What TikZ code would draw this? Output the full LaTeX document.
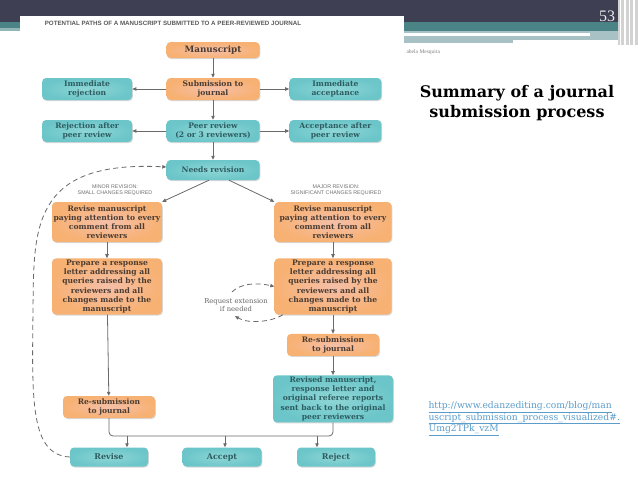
\documentclass[tikz,border=0pt]{standalone}
\usepackage{fontspec}
\setmainfont{DejaVu Serif}
\newfontfamily\capsfont{Liberation Sans}
\newfontfamily\slidefont{Liberation Serif}
\usetikzlibrary{arrows.meta, positioning, shadows, calc}

\definecolor{hdark}{HTML}{3E3F52}
\definecolor{hteal}{HTML}{4A8487}
\definecolor{hlight}{HTML}{A7C1C4}
\definecolor{orngin}{HTML}{F5BFA8}
\definecolor{orngout}{HTML}{F7B173}
\definecolor{tealin}{HTML}{8FD6D6}
\definecolor{tealout}{HTML}{6CC6C9}
\definecolor{otext}{HTML}{4A3C33}
\definecolor{ttext}{HTML}{2D5C61}
\definecolor{linec}{HTML}{6A6A6A}
\definecolor{headc}{HTML}{707070}
\definecolor{linkc}{HTML}{5C9DCB}

\begin{document}
\begin{tikzpicture}[x=1pt, y=-1pt,
  box/.style = {
    rounded corners=4pt, align=center, inner sep=1.5pt,
    font=\bfseries\fontsize{7.6}{9.2}\selectfont,
    drop shadow={opacity=0.3, shadow xshift=0.8pt, shadow yshift=-1pt}
  },
  orange box/.style = {box, inner color=orngin, outer color=orngout, text=otext},
  teal box/.style   = {box, inner color=tealin, outer color=tealout, text=ttext},
  arr/.style = {-{Triangle[length=4pt, width=3.4pt]}, draw=linec, line width=0.8pt},
  dash arr/.style = {arr, dash pattern=on 5pt off 3.5pt},
  head/.style = {font=\capsfont\fontsize{5.3}{6.4}\selectfont, text=headc, align=center},
]
\useasboundingbox (0,0) rectangle (638,479);
\fill[white] (0,0) rectangle (638,479);

% slide header
\fill[hdark]  (0,0) rectangle (638,22);
\fill[hteal]  (0,22) rectangle (638,31);
\fill[hteal!60!white] (0,28) rectangle (20,31);
\fill[hlight] (404,31) rectangle (625,43);
\fill[white]  (404,33) rectangle (590,35.5);
\fill[white]  (513,40) rectangle (625,43);
\fill[gray!35] (618,0) rectangle (638,45);
\foreach \x in {620.5,625,629.5,634}
  \draw[white, line width=1.3pt] (\x,0) -- (\x,45);
\node[font=\slidefont\fontsize{16}{16}\selectfont, text=white!92!black] (pgno) at (607,16) {53};
\node[font=\slidefont\fontsize{5.5}{6}\selectfont, text=gray, anchor=west] (author) at (403,52) {abela Mesquita};

% white panel of the figure
\fill[white] (20,16) rectangle (404,479);
\node[font=\capsfont\bfseries\fontsize{6.2}{7}\selectfont, text=black!65] (title) at (173,23)
  {POTENTIAL PATHS OF A MANUSCRIPT SUBMITTED TO A PEER-REVIEWED JOURNAL};

% main column
\node[orange box, minimum width=93pt, minimum height=16pt,
      font=\bfseries\fontsize{8.8}{10}\selectfont] (ms) at (213,50) {Manuscript};
\node[orange box, minimum width=93pt, minimum height=22pt] (sub) at (213,89) {Submission to\\journal};
\node[teal box, minimum width=90pt, minimum height=22pt] (irej) [left=34pt of sub] {Immediate\\rejection};
\node[teal box, minimum width=92pt, minimum height=22pt] (iacc) [right=29.5pt of sub] {Immediate\\acceptance};
\node[teal box, minimum width=93pt, minimum height=22pt] (peer) at (213,131) {Peer review\\(2 or 3 reviewers)};
\node[teal box, minimum width=90pt, minimum height=22pt] (rejp) [left=34pt of peer] {Rejection after\\peer review};
\node[teal box, minimum width=92pt, minimum height=22pt] (accp) [right=29.5pt of peer] {Acceptance after\\peer review};
\node[teal box, minimum width=93pt, minimum height=20pt] (need) at (213,170) {Needs revision};

\draw[arr] (ms) -- (sub);
\draw[arr] (sub) -- (peer);
\draw[arr] (peer) -- (need);
\draw[arr] (sub) -- (irej);
\draw[arr] (sub) -- (iacc);
\draw[arr] (peer) -- (rejp);
\draw[arr] (peer) -- (accp);

% minor / major revision
\node[head] (minor) at (115,190) {MINOR REVISION:\\SMALL CHANGES REQUIRED};
\node[head] (major) at (336,190) {MAJOR REVISION:\\SIGNIFICANT CHANGES REQUIRED};

\node[orange box, minimum width=110pt, minimum height=40pt] (rev1) at (107,222)
  {Revise manuscript\\paying attention to every\\comment from all\\reviewers};
\node[orange box, minimum width=117pt, minimum height=40pt] (rev2) at (333,222)
  {Revise manuscript\\paying attention to every\\comment from all\\reviewers};
\node[orange box, minimum width=110pt, minimum height=55pt] (prep1) [below=16pt of rev1]
  {Prepare a response\\letter addressing all\\queries raised by the\\reviewers and all\\changes made to the\\manuscript};
\node[orange box, minimum width=117pt, minimum height=55pt] (prep2) [below=16pt of rev2]
  {Prepare a response\\letter addressing all\\queries raised by the\\reviewers and all\\changes made to the\\manuscript};
\node[orange box, minimum width=92pt, minimum height=22pt] (resub2) [below=19pt of prep2] {Re-submission\\to journal};
\node[teal box, minimum width=120pt, minimum height=46pt] (revd) [below=19pt of resub2]
  {Revised manuscript,\\response letter and\\original referee reports\\sent back to the original\\peer reviewers};
\node[orange box, minimum width=92pt, minimum height=22pt] (resub1) at (109,407) {Re-submission\\to journal};

\draw[arr] ([xshift=-4pt]need.south) -- (rev1.north east);
\draw[arr] ([xshift=16pt]need.south) -- (rev2.north west);
\draw[arr] (rev1) -- (prep1);
\draw[arr] (rev2) -- (prep2);
\draw[arr] (prep1) -- (resub1);
\draw[arr] (prep2) -- (resub2);
\draw[arr] (resub2) -- (revd);

% request extension loop
\node[font=\fontsize{6.8}{8}\selectfont, text=black!60, align=center] (req) at (236,305)
  {Request extension\\if needed};
\draw[dash arr] ($(req.north)+(-4,-3)$) .. controls (240,284) and (255,282) .. (prep2.west);
\draw[dash arr] ($(prep2.south west)+(8.5,0)$) .. controls (272,322) and (248,324) .. ($(req.south)+(-1,1)$);

% decisions
\node[teal box, minimum width=78pt, minimum height=19pt, font=\bfseries\fontsize{8}{9}\selectfont] (revise) at (109,457) {Revise};
\node[teal box, minimum width=79pt, minimum height=19pt, font=\bfseries\fontsize{8}{9}\selectfont] (accept) at (222,457) {Accept};
\node[teal box, minimum width=78pt, minimum height=19pt, font=\bfseries\fontsize{8}{9}\selectfont] (reject) at (336,457) {Reject};

\coordinate (busy) at (0,436);
\coordinate (d1) at ([xshift=18pt]revise.north);
\coordinate (d2) at ([xshift=3pt]accept.north);
\coordinate (d3) at ([xshift=-19pt]reject.north);
\draw[linec, line width=0.8pt, rounded corners=4pt]
  (resub1.south) -- (resub1.south |- busy) -- (revd.south |- busy) -- (revd.south);
\draw[arr] (d1 |- busy) -- (d1);
\draw[arr] (d2 |- busy) -- (d2);
\draw[arr] (d3 |- busy) -- (d3);

% back to needs revision
\draw[dash arr] (revise.west) .. controls (30,455) and (32,400) .. (33,310)
  .. controls (34,230) and (30,160) .. ([yshift=3pt]need.west);

% right side of the slide
\node[font=\bfseries\fontsize{16}{20}\selectfont, align=center] (summary) at (517,103)
  {Summary of a journal\\submission process};
\node[font=\fontsize{9.2}{11.6}\selectfont, text=linkc, align=left, anchor=north west] (link) at (425,398)
  {\underline{http://www.edanzediting.com/blog/man}\\
   \underline{uscript\_submission\_process\_visualized\#.}\\
   \underline{Umg2TPk\_vzM}};
\end{tikzpicture}
\end{document}
